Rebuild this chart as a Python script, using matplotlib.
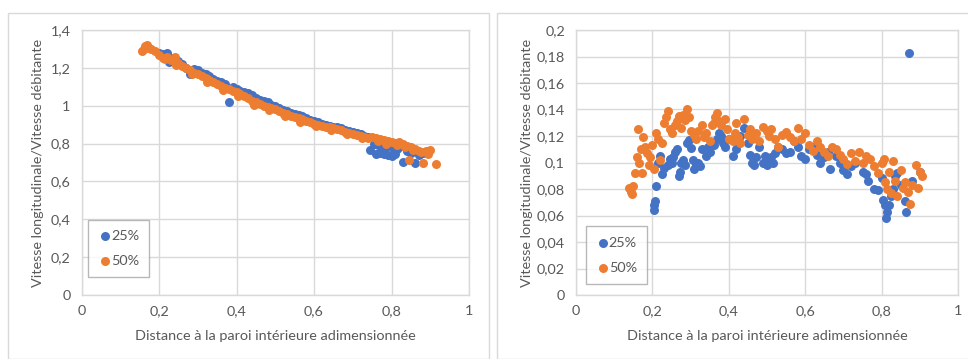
import matplotlib
matplotlib.use("Agg")
import matplotlib.pyplot as plt
from matplotlib.patches import Rectangle
from matplotlib.ticker import FuncFormatter

plt.rcParams['font.family'] = ['Lato', 'DejaVu Sans']

# ---------------- data : left panel ----------------
left_x_25 = [0.20, 0.21, 0.22, 0.225, 0.23, 0.24, 0.25, 0.26, 0.27, 0.28, 0.29, 0.30, 0.31, 0.32, 0.33,
             0.34, 0.35, 0.36, 0.37, 0.38, 0.39, 0.40, 0.41, 0.42, 0.43, 0.44, 0.45, 0.46, 0.47, 0.48,
             0.49, 0.50, 0.51, 0.52, 0.53, 0.54, 0.55, 0.56, 0.57, 0.58, 0.59, 0.60, 0.61, 0.62, 0.63,
             0.64, 0.65, 0.66, 0.67, 0.68, 0.69, 0.70, 0.71, 0.72, 0.73, 0.74, 0.745, 0.755, 0.76, 0.77,
             0.78, 0.79, 0.795, 0.80, 0.81, 0.82, 0.83, 0.84, 0.85, 0.86, 0.87, 0.88,
             0.765, 0.775, 0.785, 0.805, 0.815]
left_y_25 = [1.28, 1.275, 1.28, 1.23, 1.25, 1.245, 1.235, 1.22, 1.20, 1.17, 1.195, 1.19, 1.175, 1.165, 1.155,
             1.14, 1.13, 1.125, 1.115, 1.02, 1.10, 1.09, 1.08, 1.07, 1.065, 1.055, 1.04, 1.03, 1.025, 1.02,
             1.005, 1.00, 0.99, 0.98, 0.97, 0.96, 0.955, 0.95, 0.945, 0.935, 0.925, 0.92, 0.915, 0.905, 0.90,
             0.895, 0.89, 0.885, 0.88, 0.87, 0.865, 0.86, 0.855, 0.85, 0.84, 0.835, 0.765, 0.80, 0.745, 0.75,
             0.745, 0.74, 0.80, 0.735, 0.745, 0.78, 0.705, 0.76, 0.75, 0.695, 0.74, 0.75,
             0.79, 0.785, 0.78, 0.775, 0.77]

left_x_50 = [0.155, 0.16, 0.165, 0.17, 0.175, 0.18, 0.19, 0.20, 0.21, 0.22, 0.23, 0.24, 0.25, 0.26, 0.27,
             0.28, 0.29, 0.30, 0.31, 0.32, 0.33, 0.34, 0.35, 0.36, 0.37, 0.38, 0.39, 0.40, 0.41, 0.42,
             0.43, 0.44, 0.45, 0.46, 0.47, 0.48, 0.49, 0.50, 0.51, 0.52, 0.53, 0.54, 0.55, 0.56, 0.57,
             0.58, 0.59, 0.60, 0.61, 0.62, 0.63, 0.64, 0.65, 0.66, 0.67, 0.68, 0.69, 0.70, 0.71, 0.72,
             0.73, 0.74, 0.75, 0.76, 0.77, 0.78, 0.79, 0.80, 0.81, 0.82, 0.83, 0.84, 0.845, 0.85, 0.86,
             0.87, 0.88, 0.89, 0.90, 0.915,
             0.215, 0.245, 0.285, 0.325, 0.365, 0.405, 0.445, 0.485, 0.525, 0.565, 0.605, 0.645, 0.685,
             0.725, 0.765, 0.785, 0.815, 0.835, 0.855, 0.875, 0.895]
left_y_50 = [1.29, 1.30, 1.315, 1.32, 1.305, 1.30, 1.29, 1.27, 1.25, 1.255, 1.24, 1.26, 1.225, 1.21, 1.20,
             1.19, 1.175, 1.17, 1.155, 1.145, 1.135, 1.125, 1.115, 1.105, 1.095, 1.09, 1.08, 1.07, 1.06, 1.05,
             1.04, 1.025, 1.02, 1.01, 1.00, 0.995, 0.99, 0.985, 0.97, 0.96, 0.955, 0.945, 0.94, 0.935, 0.93,
             0.92, 0.915, 0.905, 0.90, 0.895, 0.89, 0.885, 0.88, 0.875, 0.87, 0.86, 0.855, 0.85, 0.845, 0.84,
             0.835, 0.83, 0.835, 0.83, 0.825, 0.82, 0.815, 0.81, 0.805, 0.81, 0.80, 0.785, 0.715, 0.78, 0.77,
             0.76, 0.70, 0.76, 0.765, 0.69,
             1.245, 1.215, 1.17, 1.125, 1.085, 1.05, 1.005, 0.975, 0.945, 0.915, 0.895, 0.87, 0.85,
             0.83, 0.815, 0.80, 0.79, 0.78, 0.765, 0.755, 0.745]

# ---------------- data : right panel ----------------
right_x_25 = [0.203, 0.205, 0.207, 0.21, 0.215, 0.22, 0.225, 0.23, 0.24, 0.245, 0.25, 0.255, 0.26, 0.265, 0.27,
              0.272, 0.275, 0.28, 0.285, 0.29, 0.295, 0.30, 0.305, 0.31, 0.315, 0.32, 0.325, 0.33, 0.34, 0.345,
              0.35, 0.355, 0.36, 0.37, 0.375, 0.38, 0.385, 0.39, 0.40, 0.41, 0.42, 0.43, 0.44, 0.45, 0.455,
              0.46, 0.465, 0.47, 0.48, 0.49, 0.495, 0.50, 0.505, 0.51, 0.515, 0.52, 0.53, 0.54, 0.55, 0.56,
              0.57, 0.58, 0.59, 0.60, 0.61, 0.62, 0.63, 0.64, 0.65, 0.66, 0.665, 0.68, 0.69, 0.70, 0.71,
              0.72, 0.73, 0.75, 0.76, 0.765, 0.78, 0.79, 0.80, 0.803, 0.808, 0.811, 0.815, 0.82, 0.825, 0.83,
              0.835, 0.84, 0.85, 0.86, 0.865, 0.872, 0.88, 0.90]
right_y_25 = [0.064, 0.068, 0.071, 0.082, 0.100, 0.105, 0.091, 0.096, 0.098, 0.103, 0.100, 0.104, 0.108, 0.110, 0.090,
              0.093, 0.100, 0.102, 0.098, 0.115, 0.117, 0.111, 0.102, 0.095, 0.098, 0.100, 0.097, 0.110, 0.105, 0.112,
              0.108, 0.115, 0.113, 0.118, 0.122, 0.120, 0.115, 0.112, 0.118, 0.105, 0.110, 0.120, 0.126, 0.115, 0.106,
              0.100, 0.098, 0.104, 0.112, 0.100, 0.105, 0.098, 0.100, 0.104, 0.100, 0.107, 0.112, 0.110, 0.107, 0.108,
              0.116, 0.112, 0.105, 0.103, 0.110, 0.112, 0.106, 0.100, 0.104, 0.108, 0.095, 0.105, 0.100, 0.094, 0.091,
              0.097, 0.100, 0.093, 0.091, 0.086, 0.080, 0.079, 0.088, 0.072, 0.068, 0.058, 0.063, 0.068, 0.075, 0.080,
              0.090, 0.092, 0.083, 0.071, 0.063, 0.183, 0.086, 0.093]

right_x_50 = [0.14, 0.143, 0.146, 0.15, 0.155, 0.16, 0.163, 0.165, 0.17, 0.173, 0.176, 0.18, 0.185, 0.19, 0.195,
              0.20, 0.205, 0.21, 0.215, 0.22, 0.225, 0.23, 0.235, 0.24, 0.245, 0.25, 0.26, 0.265, 0.27, 0.275,
              0.28, 0.285, 0.29, 0.295, 0.30, 0.31, 0.315, 0.32, 0.33, 0.335, 0.34, 0.35, 0.355, 0.36, 0.365,
              0.37, 0.375, 0.38, 0.39, 0.395, 0.40, 0.41, 0.415, 0.42, 0.425, 0.43, 0.44, 0.45, 0.455, 0.46,
              0.47, 0.48, 0.49, 0.50, 0.505, 0.51, 0.52, 0.53, 0.54, 0.55, 0.56, 0.57, 0.58, 0.59, 0.60,
              0.61, 0.62, 0.63, 0.64, 0.65, 0.66, 0.67, 0.68, 0.69, 0.70, 0.71, 0.72, 0.73, 0.74, 0.75,
              0.76, 0.77, 0.78, 0.79, 0.80, 0.805, 0.81, 0.815, 0.82, 0.825, 0.83, 0.835, 0.84, 0.85, 0.855,
              0.86, 0.87, 0.875, 0.88, 0.89, 0.895, 0.90, 0.905]
right_y_50 = [0.081, 0.078, 0.076, 0.082, 0.092, 0.104, 0.125, 0.100, 0.110, 0.092, 0.119, 0.112, 0.107, 0.098, 0.104,
              0.113, 0.095, 0.122, 0.118, 0.102, 0.115, 0.130, 0.134, 0.139, 0.125, 0.122, 0.128, 0.131, 0.135, 0.126,
              0.136, 0.132, 0.140, 0.134, 0.124, 0.121, 0.118, 0.124, 0.128, 0.119, 0.122, 0.116, 0.128, 0.130, 0.134,
              0.137, 0.131, 0.128, 0.133, 0.125, 0.118, 0.116, 0.122, 0.130, 0.119, 0.115, 0.133, 0.121, 0.125, 0.118,
              0.122, 0.116, 0.127, 0.124, 0.120, 0.125, 0.118, 0.112, 0.121, 0.123, 0.119, 0.116, 0.126, 0.118, 0.122,
              0.113, 0.109, 0.116, 0.112, 0.108, 0.105, 0.112, 0.110, 0.106, 0.103, 0.099, 0.107, 0.101, 0.108, 0.100,
              0.105, 0.103, 0.097, 0.092, 0.100, 0.103, 0.085, 0.080, 0.093, 0.077, 0.101, 0.086, 0.075, 0.094, 0.081,
              0.085, 0.078, 0.069, 0.083, 0.098, 0.081, 0.093, 0.090]

series_labels = ["25%", "50%"]
x_ticks = [0, 0.2, 0.4, 0.6, 0.8, 1]
left_y_ticks = [0, 0.2, 0.4, 0.6, 0.8, 1.0, 1.2, 1.4]
right_y_ticks = [0, 0.02, 0.04, 0.06, 0.08, 0.10, 0.12, 0.14, 0.16, 0.18, 0.20]
x_label = "Distance à la paroi intérieure adimensionnée"
y_label = "Vitesse longitudinale/Vitesse débitante"

BLUE = "#4472C4"
ORANGE = "#ED7D31"
TXT = "#595959"
GRID = "#D9D9D9"
FS = 10.4
MS = 42

W, H = 968, 359
fig = plt.figure(figsize=(W / 100, H / 100), dpi=100)
fig.patch.set_facecolor("white")

# panel frames
fig.patches.append(Rectangle((8 / W, 0), (489 - 8) / W, 1 - 13 / H, transform=fig.transFigure,
                             fill=False, edgecolor=GRID, linewidth=1.0))
fig.patches.append(Rectangle((497 / W, 0), (968 - 497 + 5) / W, 1 - 13 / H, transform=fig.transFigure,
                             fill=False, edgecolor=GRID, linewidth=1.0))


def fmt(v, pos):
    s = ("%.2f" % v).rstrip("0").rstrip(".")
    return s.replace(".", ",")


def setup(ax, yticks, ymax, ylab_x, leg_anchor):
    ax.set_xlim(0, 1)
    ax.set_ylim(0, ymax)
    ax.set_xticks(x_ticks)
    ax.set_yticks(yticks)
    ax.xaxis.set_major_formatter(FuncFormatter(fmt))
    ax.yaxis.set_major_formatter(FuncFormatter(fmt))
    ax.grid(True, color=GRID, linewidth=1.0)
    ax.set_axisbelow(True)
    for sp in ax.spines.values():
        sp.set_color(GRID)
        sp.set_linewidth(1.0)
    ax.tick_params(length=0, labelsize=FS, labelcolor=TXT)
    ax.tick_params(axis="y", pad=8)
    ax.tick_params(axis="x", pad=7)
    ax.set_xlabel(x_label, fontsize=FS, color=TXT)
    ax.set_ylabel(y_label, fontsize=FS, color=TXT)
    ax.xaxis.label.set_va("center")
    ax.yaxis.label.set_va("center")
    ax.xaxis.set_label_coords(0.5, -0.155)
    ax.yaxis.set_label_coords(ylab_x, 0.5)
    leg = ax.legend(loc="lower left", bbox_to_anchor=leg_anchor, fontsize=FS, frameon=True,
                    fancybox=False, edgecolor="#A6A6A6", handletextpad=-0.1, handlelength=1.0,
                    labelspacing=0.9, borderpad=0.7, borderaxespad=0.0, markerscale=1.0)
    leg.get_frame().set_linewidth(1.0)
    for t in leg.get_texts():
        t.set_color(TXT)


ax1 = fig.add_axes([81.5 / W, 1 - 295 / H, 387.5 / W, 265 / H])
ax1.scatter(left_x_25, left_y_25, s=MS, color=BLUE, label=series_labels[0], zorder=3, linewidths=0)
ax1.scatter(left_x_50, left_y_50, s=MS, color=ORANGE, label=series_labels[1], zorder=3, linewidths=0)
setup(ax1, left_y_ticks, 1.4, -0.112, (0.017, 0.068))

ax2 = fig.add_axes([576 / W, 1 - 295 / H, 382 / W, 265 / H])
ax2.scatter(right_x_25, right_y_25, s=MS, color=BLUE, label=series_labels[0], zorder=3, linewidths=0)
ax2.scatter(right_x_50, right_y_50, s=MS, color=ORANGE, label=series_labels[1], zorder=3, linewidths=0)
setup(ax2, right_y_ticks, 0.2, -0.128, (0.025, 0.042))

fig.savefig("out.png", dpi=100)
